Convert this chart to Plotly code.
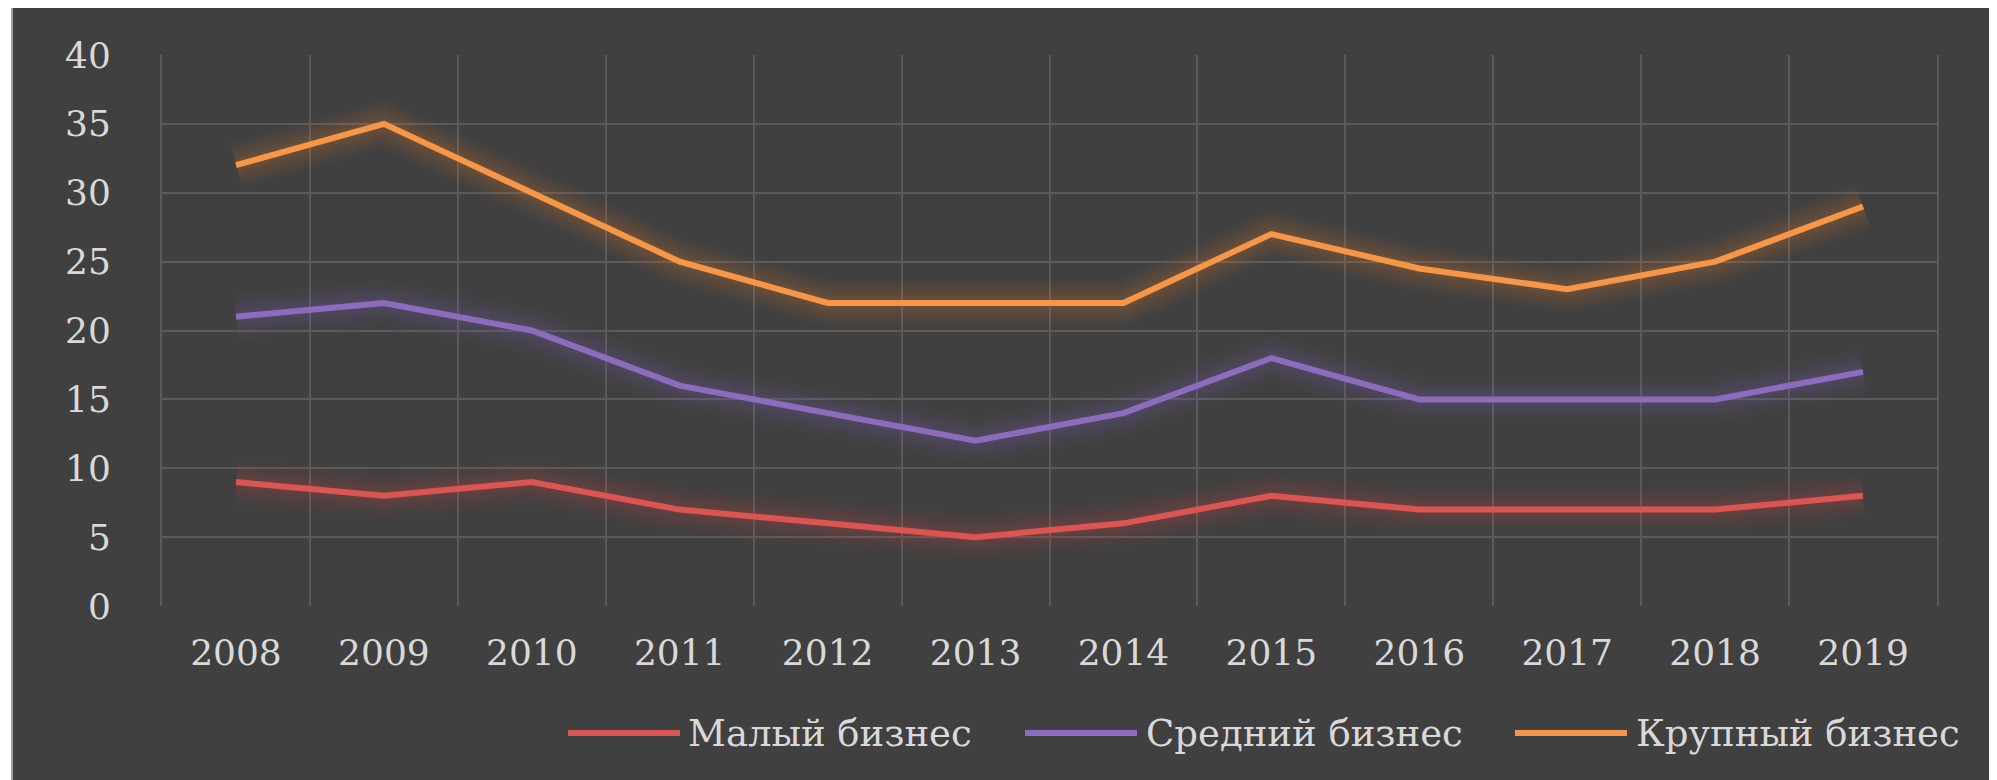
import plotly.graph_objects as go

years = ["2008", "2009", "2010", "2011", "2012", "2013", "2014", "2015", "2016", "2017", "2018", "2019"]
small = [9, 8, 9, 7, 6, 5, 6, 8, 7, 7, 7, 8]
medium = [21, 22, 20, 16, 14, 12, 14, 18, 15, 15, 15, 17]
large = [32, 35, 30, 25, 22, 22, 22, 27, 24.5, 23, 25, 29]
names = ["Малый бизнес", "Средний бизнес", "Крупный бизнес"]
colors = ["#dc5552", "#8d6cc0", "#f79646"]
glow = ["rgba(220,85,82,{a})", "rgba(141,108,192,{a})", "rgba(247,150,70,{a})"]

OFF = 8  # default page body margin
W, H = 1997 - OFF, 780 - OFF
L, R, T, B = 162 - OFF, 1937 - OFF, 55 - OFF, 606 - OFF
FONT = "DejaVu Serif"
TXT = "#d9d9d9"
GRID = "#5a5a5a"


def px(x):
    return (x - OFF - L) / (R - L)


def py(y):
    return (B - (y - OFF)) / (B - T)


fig = go.Figure()
series = [small, medium, large]
for vals, g in zip(series, glow):
    for w in (46, 38, 31, 25, 19, 14, 10):
        fig.add_trace(go.Scatter(x=years, y=vals, mode="lines",
                                 line=dict(color=g.format(a=0.035), width=w),
                                 hoverinfo="skip", showlegend=False))
for vals, name, c in zip(series, names, colors):
    fig.add_trace(go.Scatter(x=years, y=vals, mode="lines", name=name,
                             line=dict(color=c, width=6), showlegend=False))

shapes = [dict(type="rect", xref="paper", yref="paper", layer="below",
               x0=px(12), x1=px(2010), y0=py(7), y1=py(800),
               fillcolor="#404040", line=dict(color="#a0a0a0", width=2))]
annotations = []
legend_pos = [(568, 680, 686), (1025, 1137, 1144), (1515, 1627, 1634)]
for (x0, x1, xt), name, c in zip(legend_pos, names, colors):
    shapes.append(dict(type="line", xref="paper", yref="paper",
                       x0=px(x0), x1=px(x1), y0=py(733), y1=py(733),
                       line=dict(color=c, width=6)))
    annotations.append(dict(xref="paper", yref="paper", x=px(xt), y=py(733),
                            xanchor="left", yanchor="middle", showarrow=False,
                            text=name, font=dict(family=FONT, size=37, color=TXT)))

fig.update_layout(
    width=W, height=H,
    margin=dict(l=L, r=W - R, t=T, b=H - B, pad=0),
    paper_bgcolor="#ffffff",
    plot_bgcolor="rgba(0,0,0,0)",
    showlegend=False,
    shapes=shapes,
    annotations=annotations,
    font=dict(family=FONT, size=36, color=TXT),
)
fig.update_xaxes(type="category", range=[-0.5, 11.5], tickson="boundaries",
                 showgrid=True, gridcolor=GRID, gridwidth=2,
                 ticks="", zeroline=False, showline=False, automargin=False,
                 ticklabelstandoff=22,
                 tickfont=dict(family=FONT, size=36, color=TXT))
fig.update_yaxes(range=[0, 40], dtick=5, showgrid=True, gridcolor=GRID,
                 gridwidth=2, zeroline=False, ticks="", automargin=False,
                 showline=True, mirror=True, linecolor=GRID, linewidth=2,
                 ticklabelstandoff=42,
                 tickfont=dict(family=FONT, size=36, color=TXT))

fig.write_html("out.html")
